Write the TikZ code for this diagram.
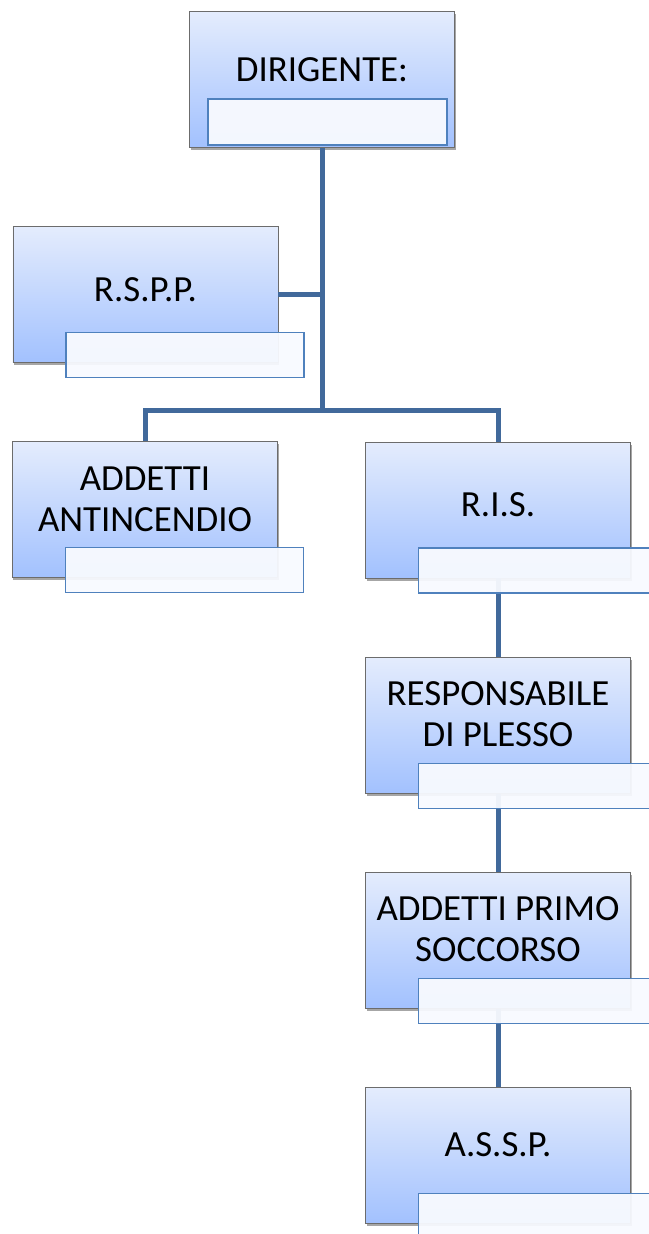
\documentclass[tikz,border=0pt]{standalone}
\usepackage{fontspec}
\setmainfont{Carlito}
\usetikzlibrary{shadows}
\definecolor{linea}{RGB}{65,105,155}
\definecolor{chiaro}{RGB}{228,236,253}
\definecolor{scuro}{RGB}{162,193,254}
\definecolor{bordonome}{RGB}{79,129,189}
\definecolor{fondonome}{RGB}{248,250,255}
\tikzset{
  ruolo/.style={rectangle, draw=gray!85!black, line width=0.8bp,
    minimum width=265bp, minimum height=136bp, inner sep=0pt,
    top color=chiaro, bottom color=scuro,
    drop shadow={shadow xshift=1bp, shadow yshift=-2.5bp, opacity=0.35, fill=black}},
  nome/.style={rectangle, draw=bordonome, line width=1.5bp, fill=fondonome,
    fill opacity=0.95, minimum width=238bp, minimum height=45bp, inner sep=0pt},
  testo/.style={align=center, inner sep=0pt, font=\fontsize{37}{41}\selectfont},
  ramo/.style={draw=linea, line width=5bp}
}
\begin{document}
\begin{tikzpicture}[x=1bp,y=-1bp]
\useasboundingbox (0,0) rectangle (649,1234);
%boxes
\node[ruolo] (dir) at (322,79.5) {};
\node[ruolo] (rspp) at (145.5,294.5) {};
\node[ruolo] (ant) at (145,509.5) {};
\node[ruolo] (ris) at (498,510) {};
\node[ruolo] (resp) at (498,725.5) {};
\node[ruolo] (soc) at (498,940.5) {};
\node[ruolo] (assp) at (498,1155.5) {};
%texts
\node[testo] (dir-t) at ([yshift=9.5bp]dir.center) {DIRIGENTE:};
\node[testo] (rspp-t) at ([yshift=5bp]rspp.center) {R.S.P.P.};
\node[testo] (ant-t) at ([yshift=10bp]ant.center) {ADDETTI\\ANTINCENDIO};
\node[testo] (ris-t) at ([yshift=5bp]ris.center) {R.I.S.};
\node[testo] (resp-t) at ([yshift=11bp]resp.center) {RESPONSABILE\\DI PLESSO};
\node[testo] (soc-t) at ([yshift=11bp]soc.center) {ADDETTI PRIMO\\SOCCORSO};
\node[testo] (assp-t) at ([yshift=10.5bp]assp.center) {A.S.S.P.};
%connectors
\coordinate (snodo) at (322,410);
\draw[ramo] (dir.south) -- (snodo);
\draw[ramo] (rspp.east) -- (rspp.east -| snodo);
\draw[ramo] (ant.north) -- (ant.north |- snodo) -- (ris.north |- snodo) -- (ris.north);
\draw[ramo] (ris.south) -- (resp.north);
\draw[ramo] (resp.south) -- (soc.north);
\draw[ramo] (soc.south) -- (assp.north);
%name fields
\node[nome, minimum width=239bp, minimum height=46bp] (dir-n) at ([shift={(5.5,42.5)}]dir.center) {};
\node[nome] (rspp-n) at ([shift={(39.5,60.5)}]rspp.center) {};
\node[nome] (ant-n) at ([shift={(39.5,60.5)}]ant.center) {};
\node[nome] (ris-n) at ([shift={(39.5,60.5)}]ris.center) {};
\node[nome] (resp-n) at ([shift={(39.5,60.5)}]resp.center) {};
\node[nome] (soc-n) at ([shift={(39.5,60.5)}]soc.center) {};
\node[nome] (assp-n) at ([shift={(39.5,60.5)}]assp.center) {};
\end{tikzpicture}
\end{document}
